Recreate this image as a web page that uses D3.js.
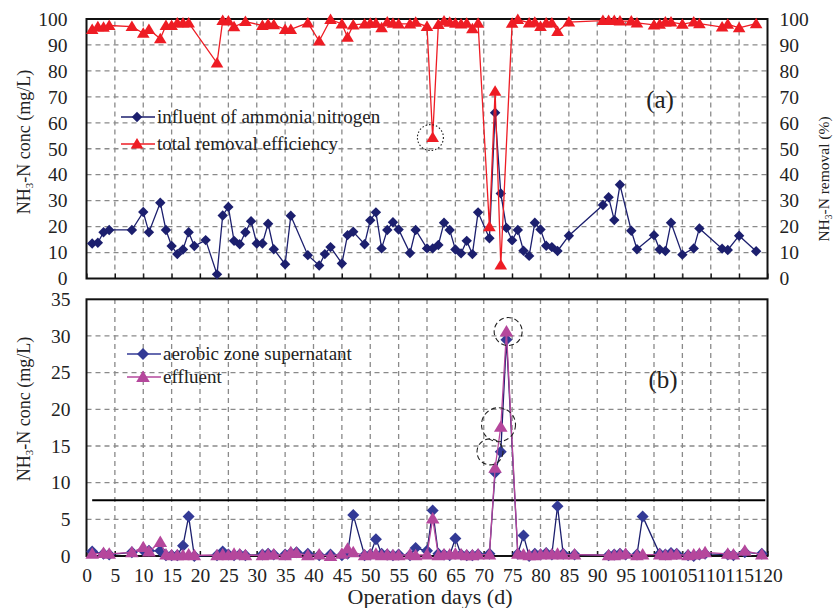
<!DOCTYPE html>
<html>
<head>
<meta charset="utf-8">
<script src="https://cdn.jsdelivr.net/npm/d3@7"></script>
<style>
  body { margin: 0; background: #fff; }
</style>
</head>
<body>
<svg id="chart" width="834" height="608"></svg>
<script>
// panel (a): operation days and readings
const topDays = [
    1, 2, 3, 4, 8, 10, 11, 13, 14, 15,
    16, 17, 18, 19, 21, 23, 24, 25, 26, 27,
    28, 29, 30, 31, 32, 33, 35, 36, 39, 41,
    42, 43, 45, 46, 47, 49, 50, 51, 52, 53,
    54, 55, 57, 58, 60, 61, 62, 63, 64, 65,
    66, 67, 68, 69, 71, 72, 73, 74, 75, 76,
    77, 78, 79, 80, 81, 82, 83, 85, 91, 92,
    93, 94, 96, 97, 100, 101, 102, 103, 105, 107,
    108, 112, 113, 115, 118
]
const influent = [
    13.5, 13.8, 17.8, 18.7, 18.7, 25.6, 17.8, 29.2, 18.7, 12.5,
    9.4, 11.2, 17.8, 12.5, 14.8, 1.6, 24.3, 27.6, 14.5, 13.2,
    17.8, 22.1, 13.5, 13.5, 21.1, 11.3, 5.5, 24.2, 9.0, 5.0,
    9.4, 12.1, 5.8, 16.7, 18.0, 13.2, 22.4, 25.5, 11.6, 18.7,
    21.7, 18.9, 9.8, 18.7, 11.6, 11.6, 12.9, 21.5, 18.7, 11.2,
    9.7, 14.5, 9.4, 25.5, 15.5, 63.9, 32.8, 19.5, 14.7, 18.7,
    10.7, 8.7, 21.5, 18.9, 12.6, 12.1, 10.6, 16.5, 28.3, 31.3,
    22.5, 36.1, 18.4, 11.3, 16.7, 11.2, 10.6, 21.5, 9.2, 11.6,
    19.3, 11.5, 11.0, 16.5, 10.5
]
// null = no removal value that day
const removal = [
    96, 97, 96.8, 97.5, 97.1, 94.5, 96, 92.4, 97.5, 97.5,
    98.5, 98.5, 98.5, null, null, 83, 99.4, 99.2, 97, null,
    99, null, null, 97.5, 98, 97.8, 96, 96, 98.5, 91.5,
    null, 99.8, 98.1, 93, 97.7, 98.1, 98.4, 98.4, 96.6, 98.8,
    98.4, 98.1, 98.1, 98.7, 97.1, 54.3, 97.9, 99.2, 98.7, 98.4,
    98.1, 98.4, 96.2, 98.4, 19.9, 72.2, 5.2, null, 98.4, 99.8,
    null, 98.5, 98.7, 97.1, 98.5, 98.5, 95.2, 98.8, 99.4, 99.4,
    99.4, 99.2, 99.2, 98.5, 97.7, 98, 98.8, 98.8, 98, 98.8,
    98.2, 96.9, 98, 96.6, 98.2
]

// panel (b)
const bottomDays = [
    1, 3, 4, 8, 10, 11, 13, 14, 15, 16,
    17, 18, 19, 23, 24, 25, 26, 27, 28, 31,
    32, 33, 35, 36, 37, 39, 41, 43, 45, 46,
    47, 49, 50, 51, 52, 53, 54, 55, 57, 58,
    60, 61, 62, 63, 64, 65, 66, 67, 68, 69,
    71, 72, 73, 74, 76, 77, 78, 79, 80, 81,
    82, 83, 84, 86, 92, 93, 94, 95, 97, 98,
    101, 102, 103, 104, 106, 107, 108, 109, 113, 114,
    116, 119
]
const aerobic = [
    0.6, 0.3, 0.2, 0.5, 0.8, 0.7, 0.7, 0.1, 0.1, 0.1,
    1.4, 5.4, 0.0, 0.1, 0.6, 0.2, 0.1, 0.2, 0.1, 0.2,
    0.3, 0.2, 0.2, 0.4, 0.5, 0.3, 0.1, 0.2, 0.1, 0.3,
    5.6, 0.1, 0.2, 2.3, 0.3, 0.2, 0.1, 0.2, 0.1, 1.1,
    0.7, 6.2, 0.3, 0.2, 0.1, 2.4, 0.2, 0.1, 0.1, 0.2,
    0.3, 11.4, 14.2, 29.5, 0.3, 2.8, 0.0, 0.3, 0.2, 0.4,
    0.2, 6.8, 0.3, 0.2, 0.1, 0.2, 0.3, 0.2, 0.2, 5.4,
    0.3, 0.2, 0.4, 0.3, 0.1, 0.0, 0.2, 0.3, 0.2, 0.1,
    0.5, 0.3
]
const effluent = [
    0.3, 0.4, 0.3, 0.5, 1.2, 0.6, 1.9, 0.2, 0.1, 0.1,
    0.1, 0.2, 0.1, 0.1, 0.2, 0.1, 0.3, 0.2, 0.1, 0.1,
    0.2, 0.2, 0.1, 0.5, 0.4, 0.1, 0.2, 0.0, 0.3, 1.0,
    0.5, 0.1, 0.2, 0.3, 0.1, 0.2, 0.1, 0.1, 0.2, 0.1,
    0.2, 5.1, 0.1, 0.2, 0.2, 0.3, 0.2, 0.1, 0.1, 0.2,
    0.2, 12.0, 17.6, 30.6, 0.3, 0.2, 0.1, 0.1, 0.2, 0.3,
    0.2, 0.3, 0.2, 0.2, 0.1, 0.1, 0.2, 0.3, 0.1, 0.2,
    0.2, 0.1, 0.2, 0.2, 0.1, 0.2, 0.3, 0.5, 0.3, 0.2,
    0.7, 0.2
]
const limitLine = { from: 1, to: 119.6, value: 7.6 }

// circled points: [day, value, radius px]
const topCircles = [[60.6, 54.3, 13]]
const bottomCircles = [[74.3, 30.6, 14], [72.6, 17.9, 17], [71.1, 14.2, 13]]

const xTicks = d3.range(0, 121, 5)
const topTicks = d3.range(0, 101, 10)
const bottomTicks = d3.range(0, 36, 5)

const serif = 'Liberation Serif'
const navy = '#1c1f6e'
const blue = '#333a96'
const red = '#ee1c24'
const magenta = '#b5479c'
const gridColor = '#8a8a8a'
const ink = '#222'

const svg = d3.select('#chart')

const x = d3.scaleLinear().domain([0, 120]).range([86.5, 767.5])
const yTop = d3.scaleLinear().domain([0, 100]).range([278.5, 19])
const yBot = d3.scaleLinear().domain([0, 35]).range([556, 299.3])

function diamond(r) {
    return `M0,${-r}L${r},0L0,${r}L${-r},0Z`
}
function triangle(r) {
    return `M0,${-r}L${r * 1.05},${r * 0.75}L${-r * 1.05},${r * 0.75}Z`
}

function label(sel, size) {
    return sel
        .style('font-family', serif)
        .style('font-size', `${size}px`)
        .attr('fill', ink)
}

function grid(g, y, yValues) {
    g.selectAll('line.v')
        .data(xTicks.slice(1, -1))
        .enter().append('line')
            .attr('class', 'v')
            .attr('x1', d => x(d)).attr('x2', d => x(d))
            .attr('y1', y.range()[0]).attr('y2', y.range()[1])
    g.selectAll('line.h')
        .data(yValues)
        .enter().append('line')
            .attr('class', 'h')
            .attr('x1', x.range()[0]).attr('x2', x.range()[1])
            .attr('y1', d => y(d)).attr('y2', d => y(d))
    g.selectAll('line')
        .attr('stroke', gridColor)
        .attr('stroke-width', 1.3)
        .attr('stroke-dasharray', '5,4')
}

function frame(g, y) {
    const [x0, x1] = x.range()
    const [y0, y1] = y.range()
    g.append('rect')
        .attr('x', x0).attr('y', y1)
        .attr('width', x1 - x0).attr('height', y0 - y1)
        .attr('fill', 'none')
        .attr('stroke', '#111')
        .attr('stroke-width', 2)
    // inward ticks on the day axis
    g.append('g')
        .attr('transform', `translate(0,${y0})`)
        .call(d3.axisBottom(x).tickValues(xTicks).tickSize(-5).tickFormat(''))
        .call(a => a.select('.domain').remove())
        .selectAll('line').attr('stroke', '#111').attr('stroke-width', 1.2)
}

function series(parent, y, days, values, color, lineColor, marker, r) {
    const g = parent.append('g')
    const pts = days.map((d, i) => [d, values[i]]).filter(p => p[1] != null)
    const line = d3.line().x(p => x(p[0])).y(p => y(p[1]))
    g.append('path')
        .datum(pts)
        .attr('d', line)
        .attr('fill', 'none')
        .attr('stroke', lineColor)
        .attr('stroke-width', 1.3)
    g.selectAll('path.m')
        .data(pts)
        .enter().append('path')
            .attr('class', 'm')
            .attr('transform', p => `translate(${x(p[0])},${y(p[1])})`)
            .attr('d', marker(r))
            .attr('fill', color)
}

function styleLabels(a, size) {
    a.select('.domain').remove()
    a.selectAll('text').call(label, size)
}

function titleText(g, cx, cy, rest, size) {
    const t = g.append('text')
        .attr('transform', `translate(${cx},${cy}) rotate(-90)`)
        .attr('text-anchor', 'middle')
        .call(label, size)
    t.append('tspan').text('NH')
    t.append('tspan').text('3').style('font-size', `${size * 0.6}px`).attr('dy', size * 0.22)
    t.append('tspan').text(rest).attr('dy', -size * 0.22)
}

function legend(g, lx, ly, text, color, marker, r) {
    g.append('line')
        .attr('x1', lx).attr('x2', lx + 34)
        .attr('y1', ly).attr('y2', ly)
        .attr('stroke', color).attr('stroke-width', 1.3)
    g.append('path')
        .attr('transform', `translate(${lx + 16},${ly})`)
        .attr('d', marker(r))
        .attr('fill', color)
    g.append('text')
        .attr('x', lx + 36).attr('y', ly + 6)
        .call(label, 19)
        .text(text)
}

function circles(g, y, list, dash) {
    g.append('g').selectAll('circle')
        .data(list)
        .enter().append('circle')
            .attr('cx', d => x(d[0]))
            .attr('cy', d => y(d[1]))
            .attr('r', d => d[2])
            .attr('fill', 'none')
            .attr('stroke', ink)
            .attr('stroke-width', 1.1)
            .attr('stroke-dasharray', dash)
}

// ---------- panel (a)
const gTop = svg.append('g')
grid(gTop.append('g'), yTop, topTicks.slice(1, -1))
frame(gTop, yTop)
series(gTop, yTop, topDays, influent, navy, navy, diamond, 5.2)
series(gTop, yTop, topDays, removal, red, red, triangle, 6)
circles(gTop, yTop, topCircles, '1.5,2')

gTop.append('g')
    .attr('transform', `translate(${x.range()[0]},0)`)
    .call(d3.axisLeft(yTop).tickValues(topTicks).tickSize(0).tickPadding(19))
    .call(a => styleLabels(a, 19.5))
gTop.append('g')
    .attr('transform', `translate(${x.range()[1]},0)`)
    .call(d3.axisRight(yTop).tickValues(topTicks).tickSize(0).tickPadding(12))
    .call(a => styleLabels(a, 19.5))

titleText(gTop, 29.5, 142, '-N conc (mg/L)', 18)
titleText(gTop, 829, 179, '-N removal (%)', 15.5)

legend(gTop, 121, 117, 'influent of ammonia nitrogen', navy, diamond, 5.2)
legend(gTop, 121, 144, 'total removal efficiency', red, triangle, 6)

gTop.append('text')
    .attr('x', 660).attr('y', 108)
    .attr('text-anchor', 'middle')
    .call(label, 25)
    .text('(a)')

// ---------- panel (b)
const gBot = svg.append('g')
grid(gBot.append('g'), yBot, bottomTicks.slice(1, -1))
frame(gBot, yBot)

gBot.append('line')
    .attr('x1', x(limitLine.from)).attr('x2', x(limitLine.to))
    .attr('y1', yBot(limitLine.value)).attr('y2', yBot(limitLine.value))
    .attr('stroke', '#000')
    .attr('stroke-width', 2.2)

series(gBot, yBot, bottomDays, aerobic, blue, navy, diamond, 6)
series(gBot, yBot, bottomDays, effluent, magenta, magenta, triangle, 6.5)
circles(gBot, yBot, bottomCircles, '5,3')

gBot.append('g')
    .attr('transform', `translate(${x.range()[0]},0)`)
    .call(d3.axisLeft(yBot).tickValues(bottomTicks).tickSize(0).tickPadding(16))
    .call(a => styleLabels(a, 19.5))
gBot.append('g')
    .attr('transform', `translate(0,${yBot.range()[0]})`)
    .call(d3.axisBottom(x).tickValues(xTicks).tickSize(0).tickPadding(12))
    .call(a => styleLabels(a, 19.5))

titleText(gBot, 29.5, 409, '-N conc (mg/L)', 18)

gBot.append('text')
    .attr('x', 430).attr('y', 604)
    .attr('text-anchor', 'middle')
    .call(label, 22)
    .text('Operation days (d)')

legend(gBot, 127, 354, 'aerobic zone supernatant', blue, diamond, 6)
legend(gBot, 127, 377, 'effluent', magenta, triangle, 6.5)

gBot.append('text')
    .attr('x', 663).attr('y', 388)
    .attr('text-anchor', 'middle')
    .call(label, 25)
    .text('(b)')
</script>
</body>
</html>
